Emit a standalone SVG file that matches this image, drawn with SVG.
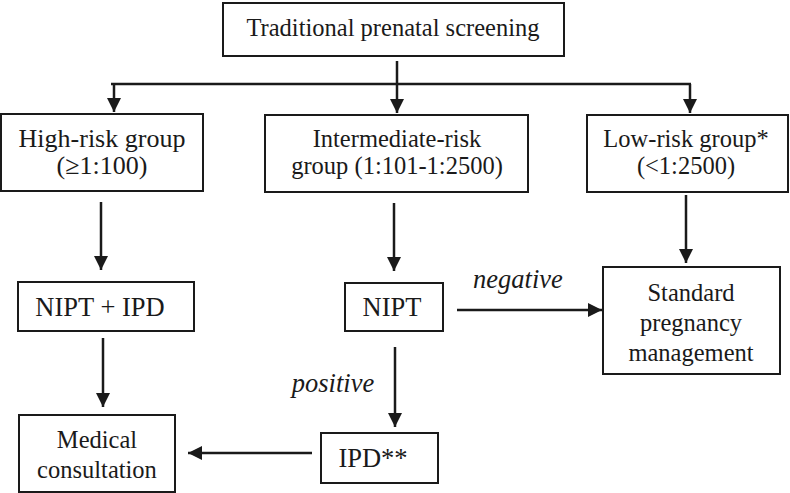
<svg xmlns="http://www.w3.org/2000/svg" width="790" height="493" viewBox="0 0 790 493">
<style>
.box{fill:#fff;stroke:#1a1a1a;stroke-width:2}
.c{fill:none;stroke:#1a1a1a;stroke-width:2.5}
</style>
<defs>
<marker id="ah" markerUnits="userSpaceOnUse" markerWidth="15" markerHeight="15" viewBox="0 0 15 15" refX="14" refY="7.5" orient="auto">
<path d="M0,0.5 L14,7.5 L0,14.5 Z" fill="#1a1a1a"/>
</marker>
</defs>
<rect width="790" height="493" fill="#fff"/>
<g id="connectors">
<path class="c" d="M397 61 V84"/>
<path class="c" d="M111 84 H691"/>
<path class="c" d="M114 84 V112" marker-end="url(#ah)"/>
<path class="c" d="M397 84 V113" marker-end="url(#ah)"/>
<path class="c" d="M690 84 V113" marker-end="url(#ah)"/>
<path class="c" d="M101 202 V270" marker-end="url(#ah)"/>
<path class="c" d="M103 338 V407" marker-end="url(#ah)"/>
<path class="c" d="M394 203 V271" marker-end="url(#ah)"/>
<path class="c" d="M686 195 V263" marker-end="url(#ah)"/>
<path class="c" d="M457 310 H602" marker-end="url(#ah)"/>
<path class="c" d="M395 347 V427" marker-end="url(#ah)"/>
<path class="c" d="M312 453 H188" marker-end="url(#ah)"/>
<text x="518" y="288" font-family="Liberation Serif" font-style="italic" font-size="26.5" fill="#1a1a1a" text-anchor="middle">negative</text>
<text x="333" y="392" font-family="Liberation Serif" font-style="italic" font-size="26.5" fill="#1a1a1a" text-anchor="middle">positive</text>
</g>
<g id="top">
<rect class="box" x="223" y="3" width="341" height="53"/>
<text x="393" y="36" font-family="Liberation Serif" font-size="24.5" fill="#1a1a1a" text-anchor="middle">Traditional prenatal screening</text>
</g>
<g id="high">
<rect class="box" x="1" y="114" width="202" height="77"/>
<text x="102" y="147" font-family="Liberation Serif" font-size="26" fill="#1a1a1a" text-anchor="middle">High-risk group</text>
<text x="102" y="174" font-family="Liberation Serif" font-size="26" fill="#1a1a1a" text-anchor="middle">(≥1:100)</text>
</g>
<g id="intermediate">
<rect class="box" x="265" y="115" width="263" height="77"/>
<text x="397" y="147" font-family="Liberation Serif" font-size="24.5" fill="#1a1a1a" text-anchor="middle">Intermediate-risk</text>
<text x="397" y="174" font-family="Liberation Serif" font-size="24.5" fill="#1a1a1a" text-anchor="middle">group (1:101-1:2500)</text>
</g>
<g id="low">
<rect class="box" x="587" y="115" width="201" height="77"/>
<text x="686" y="147" font-family="Liberation Serif" font-size="24.5" fill="#1a1a1a" text-anchor="middle">Low-risk group*</text>
<text x="686" y="174" font-family="Liberation Serif" font-size="24.5" fill="#1a1a1a" text-anchor="middle">(&lt;1:2500)</text>
</g>
<g id="nipt-ipd">
<rect class="box" x="18" y="282" width="176" height="49"/>
<text x="100" y="316" font-family="Liberation Serif" font-size="26.5" fill="#1a1a1a" text-anchor="middle">NIPT + IPD</text>
</g>
<g id="nipt">
<rect class="box" x="345" y="283" width="98" height="48"/>
<text x="392" y="316" font-family="Liberation Serif" font-size="26.5" fill="#1a1a1a" text-anchor="middle">NIPT</text>
</g>
<g id="standard">
<rect class="box" x="603" y="267" width="177" height="107"/>
<text x="691" y="301" font-family="Liberation Serif" font-size="24.5" fill="#1a1a1a" text-anchor="middle">Standard</text>
<text x="691" y="331" font-family="Liberation Serif" font-size="24.5" fill="#1a1a1a" text-anchor="middle">pregnancy</text>
<text x="691" y="361" font-family="Liberation Serif" font-size="24.5" fill="#1a1a1a" text-anchor="middle">management</text>
</g>
<g id="medical">
<rect class="box" x="19" y="415" width="156" height="77"/>
<text x="97" y="448" font-family="Liberation Serif" font-size="24.5" fill="#1a1a1a" text-anchor="middle">Medical</text>
<text x="97" y="478" font-family="Liberation Serif" font-size="24.5" fill="#1a1a1a" text-anchor="middle">consultation</text>
</g>
<g id="ipd">
<rect class="box" x="321" y="433" width="117" height="50"/>
<text x="373" y="467" font-family="Liberation Serif" font-size="26.5" fill="#1a1a1a" text-anchor="middle">IPD**</text>
</g>
</svg>
